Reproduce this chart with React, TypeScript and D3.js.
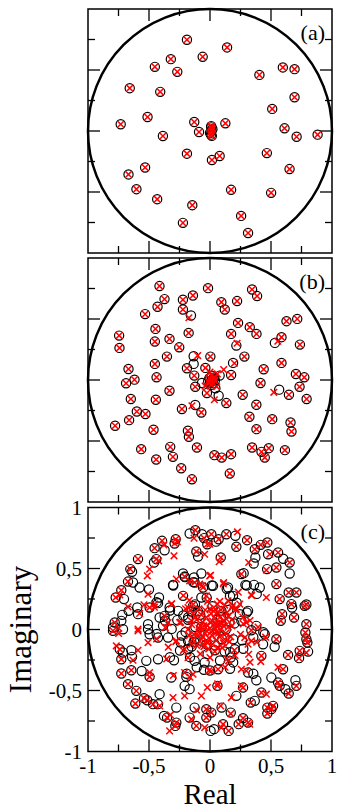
import React from 'react';
import * as d3 from 'd3';

type P = [number, number];

const tickValues = [-0.75, -0.5, -0.25, 0, 0.25, 0.5, 0.75];
const labelledTicks = [-1, -0.5, 0, 0.5, 1];
const tickLabels = ['-1', '-0,5', '0', '0,5', '1'];
const panelLabels = ['(a)', '(b)', '(c)'];
const xTitle = 'Real';
const yTitle = 'Imaginary';

// ---------- panel (a) ----------
const aBoth: P[] = [
  [-0.189, 0.748], [0.14, 0.685], [-0.06, 0.608], [-0.321, 0.589], [-0.452, 0.526],
  [-0.268, 0.485], [0.405, 0.46], [0.597, 0.521], [0.693, 0.507], [-0.658, 0.351],
  [-0.408, 0.321], [0.693, 0.277], [0.51, 0.181], [-0.512, 0.115], [-0.732, 0.055],
  [-0.129, 0.074], [0.126, 0.063], [-0.09, -0.008], [0.611, 0.022], [0.71, -0.047],
  [0.882, -0.03], [-0.386, -0.041], [-0.189, -0.186], [0.079, -0.205], [0.016, -0.238],
  [0.466, -0.181], [0.652, -0.312], [-0.668, -0.356], [-0.532, -0.299], [-0.603, -0.477],
  [-0.433, -0.559], [0.173, -0.482], [0.501, -0.507], [-0.145, -0.608], [-0.222, -0.753],
  [0.255, -0.696], [0.312, -0.836],
  // central cluster
  [0.01, 0.03], [0.012, 0.0], [0.008, -0.03], [0.02, 0.015], [0.0, -0.015], [0.015, -0.04], [0.01, 0.04],
];
const aCircleOnly: P[] = [];
const aCrossOnly: P[] = [];

// ---------- panel (b) ----------
const bBoth: P[] = [
  [-0.414, 0.77], [-0.016, 0.753], [0.345, 0.742], [0.386, 0.688], [-0.373, 0.663],
  [-0.43, 0.6], [-0.222, 0.658], [-0.14, 0.693], [0.093, 0.638], [0.121, 0.578],
  [0.222, 0.647], [-0.532, 0.54], [-0.222, 0.578], [0.23, 0.468], [0.326, 0.433],
  [0.381, 0.378], [0.627, 0.482], [0.715, 0.501], [-0.447, 0.419], [-0.175, 0.386],
  [0.173, 0.378], [-0.745, 0.364], [-0.742, 0.263], [-0.452, 0.315], [-0.332, 0.337],
  [-0.252, 0.268], [0.586, 0.351], [0.737, 0.29], [-0.353, 0.192], [0.003, 0.192],
  [0.282, 0.192], [0.586, 0.14], [-0.452, 0.132], [-0.668, 0.09], [0.704, 0.049],
  [0.773, 0.022], [-0.688, -0.027], [-0.619, 0.003], [-0.438, 0.022], [0.734, -0.055],
  [-0.121, -0.055], [0.792, -0.156], [-0.332, -0.088], [0.268, -0.121], [-0.649, -0.156],
  [-0.444, -0.162], [0.134, -0.189], [-0.23, -0.238], [-0.6, -0.258], [-0.529, -0.279],
  [-0.663, -0.329], [-0.778, -0.375], [0.323, -0.301], [0.51, -0.321], [0.66, -0.348],
  [0.668, -0.422], [-0.463, -0.408], [-0.181, -0.416], [-0.173, -0.466], [0.381, -0.403],
  [-0.564, -0.567], [-0.326, -0.548], [-0.107, -0.553], [0.345, -0.553], [0.422, -0.589],
  [0.482, -0.559], [0.449, -0.636], [0.614, -0.575], [-0.441, -0.652], [-0.304, -0.63],
  [0.036, -0.616], [0.096, -0.636], [0.173, -0.608], [-0.236, -0.723], [-0.148, -0.814],
  [0.162, -0.767],
  [-0.189, 0.096], [-0.038, 0.099], [0.44, 0.088], [-0.129, 0.036], [0.173, 0.041],
  [0.414, -0.025], [0.647, -0.121], [-0.025, -0.107], [0.38, -0.203], [-0.071, -0.266],
  // central cluster
  [0.015, 0.0], [0.035, 0.02], [-0.005, 0.015], [0.025, -0.025], [0.0, -0.02],
  [0.04, -0.005], [-0.015, -0.01], [0.015, 0.035], [0.03, 0.01], [0.01, -0.04],
];
const bCircleOnly: P[] = [
  [-0.156, 0.529], [0.532, 0.304], [0.216, 0.282], [-0.134, 0.195], [0.189, 0.14],
  [-0.134, 0.132], [0.079, 0.036], [-0.066, -0.025], [0.567, -0.079], [0.044, -0.068],
  [0.071, -0.129], [-0.121, -0.205],
];
const bCrossOnly: P[] = [
  [-0.173, 0.51], [0.556, 0.318], [0.222, 0.301], [-0.101, 0.2], [0.2, 0.137],
  [0.112, 0.085], [0.523, -0.101], [0.036, -0.162], [-0.148, -0.211], [0.0, 0.065],
  [0.06, 0.05], [-0.04, -0.05], [0.055, -0.055],
];

// ---------- panel (c) ----------
const cBoth: P[] = [
  // upper left
  [-0.12, 0.814], [-0.049, 0.749], [-0.022, 0.699], [-0.281, 0.74], [-0.29, 0.705],
  [-0.393, 0.727], [-0.454, 0.667], [-0.59, 0.577], [-0.44, 0.577], [-0.112, 0.639],
  [-0.653, 0.495], [-0.672, 0.393], [-0.727, 0.322], [-0.773, 0.262], [-0.495, 0.18],
  [-0.208, 0.434], [-0.126, 0.385], [-0.057, 0.344], [-0.372, 0.112], [-0.781, 0.057],
  // upper right
  [0.011, 0.781], [0.071, 0.74], [0.134, 0.781], [0.304, 0.732], [0.216, 0.678],
  [0.367, 0.658], [0.416, 0.694], [0.47, 0.713], [0.558, 0.631], [0.088, 0.59],
  [0.653, 0.549], [0.544, 0.508], [0.257, 0.454], [0.544, 0.372], [0.645, 0.303],
  [0.708, 0.303], [0.571, 0.249], [0.776, 0.194], [0.79, 0.205], [0.667, 0.208],
  [0.591, 0.126], [0.689, 0.098], [0.58, 0.071], [0.79, 0.044],
  // lower left
  [-0.795, -0.011], [-0.74, -0.162], [-0.727, -0.244], [-0.727, -0.361], [-0.645, -0.334],
  [-0.495, -0.388], [-0.672, -0.448], [-0.604, -0.503], [-0.541, -0.563], [-0.514, -0.58],
  [-0.467, -0.612], [-0.612, -0.607], [-0.03, -0.653], [-0.352, -0.722], [-0.276, -0.763],
  [-0.284, -0.79], [-0.112, -0.79], [-0.03, -0.722],
  // lower right
  [0.339, -0.006], [0.544, -0.08], [0.782, -0.025], [0.79, -0.08], [0.798, -0.107],
  [0.421, -0.216], [0.64, -0.208], [0.735, -0.175], [0.73, -0.235], [0.066, -0.326],
  [0.599, -0.326], [0.558, -0.435], [0.571, -0.462], [0.645, -0.525], [0.708, -0.462],
  [0.334, -0.599], [0.421, -0.517], [0.271, -0.476], [0.061, -0.462], [0.47, -0.64],
  [0.503, -0.653], [0.47, -0.689], [0.517, -0.626], [0.011, -0.681], [0.107, -0.776],
  [0.153, -0.831], [0.271, -0.727], [0.235, -0.776], [0.312, -0.763],
];
const cCircleOnly: P[] = [
  [-0.167, 0.787], [-0.066, 0.781], [-0.372, 0.65], [-0.459, 0.549], [-0.098, 0.598],
  [-0.639, 0.473], [-0.631, 0.385], [-0.577, 0.344], [-0.705, 0.249], [-0.5, 0.328],
  [-0.418, 0.262], [-0.426, 0.216], [-0.596, 0.18], [-0.59, 0.126], [-0.667, 0.153],
  [-0.719, 0.12], [-0.221, 0.459], [-0.131, 0.426], [-0.071, 0.459], [-0.303, 0.366],
  [-0.221, 0.276], [-0.071, 0.262], [-0.331, 0.18], [-0.262, 0.153], [-0.413, 0.098],
  [-0.139, 0.194], [-0.508, 0.044], [-0.385, 0.03], [-0.795, 0.016], [-0.727, 0.071],
  [-0.268, 0.077], [-0.18, 0.098],
  [0.208, 0.768], [0.05, 0.72], [0.476, 0.617], [0.372, 0.59], [0.358, 0.541],
  [0.468, 0.495], [0.653, 0.459], [0.025, 0.358], [0.148, 0.344], [0.29, 0.366],
  [0.361, 0.366], [0.408, 0.344], [0.673, 0.18], [0.189, 0.276], [0.312, 0.153],
  [0.244, 0.126], [0.093, 0.153], [0.257, 0.071], [0.38, 0.03], [0.6, 0.58], [0.276, 0.462],
  [-0.713, 0.002], [-0.508, 0.002], [-0.495, -0.039], [-0.426, -0.066], [-0.713, -0.189],
  [-0.645, -0.17], [-0.639, -0.224], [-0.522, -0.257], [-0.426, -0.244], [-0.295, -0.252],
  [-0.344, -0.066], [-0.24, -0.107], [-0.18, -0.093], [-0.126, -0.08], [-0.18, -0.162],
  [-0.126, -0.257], [-0.044, -0.271], [-0.317, -0.394], [-0.194, -0.388], [-0.208, -0.462],
  [-0.167, -0.489], [-0.413, -0.53], [-0.426, -0.612], [-0.276, -0.64], [-0.126, -0.64],
  [-0.377, -0.708], [-0.167, -0.722], [0.005, -0.831], [-0.05, -0.33], [-0.56, -0.34],
  [0.449, -0.039], [0.263, -0.088], [0.435, -0.121], [0.203, -0.162], [0.53, -0.142],
  [0.804, -0.181], [0.17, -0.23], [0.19, -0.27], [0.312, -0.353], [0.503, -0.394],
  [0.618, -0.49], [0.7, -0.416], [0.38, -0.416], [0.367, -0.585], [0.216, -0.544],
  [0.17, -0.681], [0.033, -0.817], [0.095, -0.64], [0.06, 0.0],
  // around and inside the central cluster
  [-0.301, 0.361], [-0.205, 0.429], [-0.137, 0.388], [0.014, 0.361], [0.137, 0.333],
  [0.301, 0.361], [0.383, 0.292], [-0.437, 0.224], [-0.328, 0.156], [-0.369, 0.074],
  [-0.437, -0.036], [-0.314, 0.005], [-0.219, 0.115], [-0.232, -0.049], [-0.246, -0.172],
  [-0.328, -0.227], [-0.164, -0.227], [-0.109, -0.309], [0.0, -0.336], [0.082, -0.254],
  [0.164, -0.186], [0.273, -0.158], [0.355, -0.063], [0.437, -0.022], [0.301, 0.139],
  [0.219, 0.22], [0.164, 0.275], [-0.027, 0.261], [-0.123, 0.206], [-0.191, -0.363],
  [0.355, -0.363], [0.164, -0.322],
  [-0.15, 0.15], [0.02, 0.19], [0.15, 0.16], [0.2, 0.05], [0.19, -0.08],
  [0.12, -0.18], [-0.02, -0.2], [-0.15, -0.14], [-0.2, -0.02], [-0.18, 0.08],
  [-0.08, 0.12], [0.09, 0.1], [0.1, -0.08], [-0.08, -0.09], [0.04, -0.13],
  [-0.12, 0.02], [0.13, 0.0], [0.06, 0.08], [-0.07, 0.02], [-0.03, -0.12],
  [0.16, 0.06], [-0.13, -0.1], [0.04, -0.17], [-0.1, 0.15],
];
const cCrossOnly: P[] = [
  [-0.131, 0.749], [-0.295, 0.604], [-0.421, 0.563], [-0.044, 0.617], [-0.495, 0.495],
  [-0.514, 0.44], [-0.74, 0.284], [-0.508, 0.29], [-0.454, 0.208], [-0.541, 0.202],
  [-0.577, 0.131], [-0.672, 0.186], [-0.167, 0.399], [-0.085, 0.372], [-0.276, 0.413],
  [-0.03, 0.276], [-0.317, 0.208], [-0.18, 0.18], [-0.366, 0.016], [-0.344, 0.057],
  [-0.59, 0.003], [-0.749, 0.011], [-0.249, 0.057], [-0.153, 0.071], [-0.268, 0.72],
  [-0.378, 0.694],
  [-0.002, 0.699], [0.075, 0.555], [0.317, 0.549], [0.462, 0.487], [0.112, 0.385],
  [0.339, 0.284], [0.462, 0.262], [-0.002, 0.44], [0.244, 0.208], [0.148, 0.235],
  [0.216, 0.167], [0.061, 0.208], [0.181, 0.18], [0.298, 0.057], [0.394, 0.02],
  [0.49, 0.617], [0.225, 0.8],
  [-0.749, -0.033], [-0.59, -0.011], [-0.508, -0.107], [-0.276, -0.093], [-0.057, -0.121],
  [-0.768, -0.134], [-0.59, -0.17], [-0.631, -0.252], [-0.495, -0.353], [-0.208, -0.353],
  [-0.139, -0.366], [-0.18, -0.23], [-0.022, -0.476], [-0.071, -0.544], [-0.303, -0.558],
  [-0.208, -0.544], [-0.325, -0.7], [-0.331, -0.831], [-0.153, -0.735], [-0.044, -0.804],
  [-0.412, -0.626], [-0.11, -0.66], [-0.02, -0.11],
  [0.285, -0.066], [0.312, -0.121], [0.34, -0.093], [0.317, -0.203], [0.416, -0.263],
  [0.153, -0.257], [0.257, -0.326], [0.298, -0.339], [0.558, -0.31], [0.462, -0.53],
  [0.256, -0.462], [0.175, -0.558], [0.088, -0.626], [0.17, -0.69], [0.093, -0.804],
  [0.325, -0.776], [0.79, -0.19], [0.01, -0.34],
  // around the central cluster
  [0.005, 0.445], [-0.063, 0.361], [0.109, 0.374], [0.232, 0.306], [0.342, 0.279],
  [-0.219, 0.279], [-0.314, 0.211], [-0.456, 0.183], [-0.137, 0.206], [-0.437, -0.077],
  [-0.342, -0.145], [-0.219, -0.172], [-0.355, -0.241], [-0.301, -0.377], [-0.164, -0.391],
  [-0.008, -0.336], [0.063, -0.445], [0.123, -0.309], [0.205, -0.213], [0.328, -0.268],
  [0.383, -0.104], [0.273, 0.046], [0.328, 0.074], [0.456, -0.063], [0.186, 0.197],
  // dense central cluster
  [0.0, 0.01], [0.03, 0.04], [-0.02, 0.03], [0.05, -0.02], [-0.04, -0.03],
  [0.02, -0.05], [-0.01, -0.07], [0.07, 0.05], [-0.06, 0.06], [0.09, 0.0],
  [-0.09, 0.01], [0.04, 0.09], [-0.03, 0.1], [0.08, -0.06], [-0.07, -0.08],
  [0.12, 0.07], [-0.11, 0.08], [0.01, 0.13], [0.02, -0.12], [0.13, -0.03],
  [-0.13, -0.04], [0.06, 0.14], [-0.05, -0.14], [0.15, 0.11], [-0.14, 0.13],
  [0.16, -0.1], [-0.15, -0.12], [0.1, -0.15], [-0.09, 0.17], [0.18, 0.03],
  [-0.18, 0.0], [0.03, 0.18], [0.04, -0.18], [-0.2, 0.17], [0.21, 0.16],
  [0.2, -0.17], [-0.21, -0.16], [0.12, 0.2], [-0.02, 0.23], [0.0, -0.23],
  [-0.24, 0.06], [0.25, -0.04], [-0.08, -0.2], [0.08, 0.23], [-0.17, 0.24],
  [0.14, -0.24], [-0.28, -0.1], [0.27, 0.1], [0.11, 0.03], [-0.06, -0.01],
  [0.0, 0.06], [0.06, 0.02],
  [0.01, -0.02], [-0.03, -0.01], [0.04, 0.01], [0.02, 0.07], [-0.05, 0.03],
  [0.07, -0.03], [-0.02, -0.1], [0.05, -0.09], [-0.08, 0.03], [0.1, 0.05],
  [-0.1, -0.05], [0.03, 0.15], [-0.07, 0.12], [0.12, -0.08], [-0.12, 0.1],
  [0.15, 0.02], [-0.15, 0.04], [0.06, -0.15], [-0.04, 0.16], [0.14, 0.14],
  [-0.14, -0.08], [0.09, 0.16], [-0.11, -0.13], [0.17, -0.06], [-0.17, -0.05],
  [0.0, 0.17], [0.08, 0.1], [-0.09, -0.02], [0.11, -0.11], [-0.01, -0.16],
  [0.13, 0.09], [0.05, 0.05], [-0.06, -0.06], [0.18, 0.08], [-0.16, 0.16],
];

const panels = [
  { label: panelLabels[0], both: aBoth, circles: aCircleOnly, crosses: aCrossOnly },
  { label: panelLabels[1], both: bBoth, circles: bCircleOnly, crosses: bCrossOnly },
  { label: panelLabels[2], both: cBoth, circles: cCircleOnly, crosses: cCrossOnly },
];

const W = 340;
const H = 810;
const LEFT = 88;
const SIZE = 244;
const TOPS = [9, 258, 507.5];
const FONT = '"Liberation Serif", "DejaVu Serif", serif';

export default function App() {
  const x = d3.scaleLinear().domain([-1, 1]).range([LEFT, LEFT + SIZE]);
  const bottomPanelTop = TOPS[2];
  const yLast = d3.scaleLinear().domain([-1, 1]).range([bottomPanelTop + SIZE, bottomPanelTop]);
  const cs = 3.3;
  const ts = { fontFamily: FONT };

  return (
    <svg width={W} height={H} style={{ position: 'absolute', left: 0, top: 0, fontFamily: FONT }}>
      <rect width={W} height={H} fill="#fff" />
      {panels.map((p, i) => {
        const top = TOPS[i];
        const y = d3.scaleLinear().domain([-1, 1]).range([top + SIZE, top]);
        const rad = x(1) - x(0);
        const circlePts = [...p.both, ...p.circles];
        const crossPts = [...p.both, ...p.crosses];
        return (
          <g key={i}>
            <circle cx={x(0)} cy={y(0)} r={rad} fill="none" stroke="#000" strokeWidth={2.5} />
            {tickValues.map((v) => {
              const len = labelledTicks.includes(v) ? 12 : 7;
              return (
                <g key={v} stroke="#000" strokeWidth={1.3}>
                  <line x1={x(v)} x2={x(v)} y1={top} y2={top + len} />
                  <line x1={x(v)} x2={x(v)} y1={top + SIZE} y2={top + SIZE - len} />
                  <line x1={LEFT} x2={LEFT + len} y1={y(v)} y2={y(v)} />
                  <line x1={LEFT + SIZE} x2={LEFT + SIZE - len} y1={y(v)} y2={y(v)} />
                </g>
              );
            })}
            {circlePts.map((d, j) => (
              <circle key={'c' + j} cx={x(d[0])} cy={y(d[1])} r={4.6} fill="none" stroke="#000" strokeWidth={1.2} />
            ))}
            {crossPts.map((d, j) => {
              const cx = x(d[0]);
              const cy = y(d[1]);
              return (
                <path
                  key={'x' + j}
                  d={`M${cx - cs},${cy - cs}L${cx + cs},${cy + cs}M${cx - cs},${cy + cs}L${cx + cs},${cy - cs}`}
                  stroke="#ff0000"
                  strokeWidth={1.5}
                  fill="none"
                />
              );
            })}
            <rect x={LEFT} y={top} width={SIZE} height={SIZE} fill="none" stroke="#000" strokeWidth={1.5} />
            <text x={325} y={top + 31} textAnchor="end" fontSize={22} fill="#000" style={ts}>
              {p.label}
            </text>
          </g>
        );
      })}
      {labelledTicks.map((v, k) => (
        <text key={'xl' + v} x={x(v)} y={773} textAnchor="middle" fontSize={21} fill="#000" style={ts}>
          {tickLabels[k]}
        </text>
      ))}
      {labelledTicks.map((v, k) => (
        <text key={'yl' + v} x={82} y={yLast(v)} dy="0.35em" textAnchor="end" fontSize={21} fill="#000" style={ts}>
          {tickLabels[k]}
        </text>
      ))}
      <text x={x(0)} y={803.5} textAnchor="middle" fontSize={29} fill="#000" style={ts}>
        {xTitle}
      </text>
      <text
        transform={`translate(31,${yLast(0)}) rotate(-90)`}
        textAnchor="middle"
        fontSize={31}
        fill="#000"
        style={ts}
      >
        {yTitle}
      </text>
    </svg>
  );
}
